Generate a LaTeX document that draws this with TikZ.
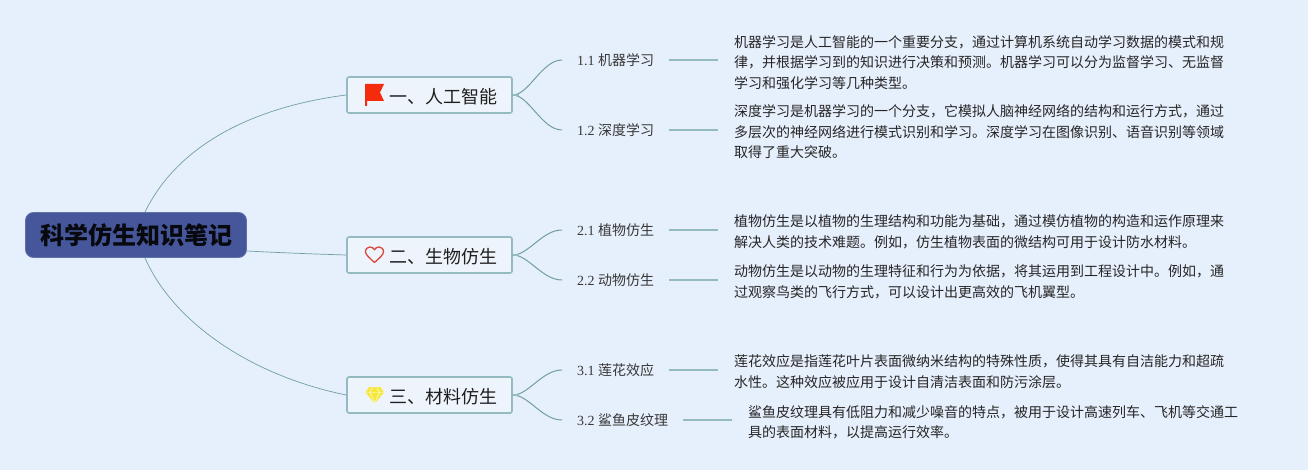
\documentclass[tikz,border=0pt]{standalone}
\usepackage{fontspec}
\setmainfont{Liberation Serif}
\newfontfamily\cjk{Noto Sans CJK SC}
\usetikzlibrary{calc}
\definecolor{bgc}{HTML}{E6EFFC}
\definecolor{edgec}{HTML}{94BCC0}
\definecolor{linec}{HTML}{6F9FA3}
\definecolor{rootc}{HTML}{45579A}
\definecolor{boxc}{HTML}{EEF4FB}
\definecolor{flagc}{HTML}{F52B0D}
\definecolor{heartc}{HTML}{D9483B}
\definecolor{gemc}{HTML}{F5E83F}
\tikzset{
  rootbox/.style={draw=rootc!85!white,line width=0.8pt,fill=rootc,rounded corners=8pt,minimum width=221pt,minimum height=45pt,inner sep=0pt,font=\cjk\bfseries\fontsize{24}{28}\selectfont,text=black!90!rootc},
  branchbox/.style={draw=edgec,line width=1.6pt,fill=boxc,rounded corners=2pt,minimum width=165pt,minimum height=36pt,inner sep=0pt},
  branchtext/.style={anchor=west,inner sep=0pt,font=\cjk\fontsize{18}{22}\selectfont,text=black!88},
  sublabel/.style={anchor=west,inner sep=0pt,outer sep=15pt,font=\fontsize{14}{18}\selectfont,text=black!78},
  bodytext/.style={anchor=west,inner sep=0pt,outer sep=16pt,align=left,font=\cjk\fontsize{14}{20.5}\selectfont,text=black!85},
  mainlink/.style={draw=linec,line width=0.7pt},
  sublink/.style={draw=linec,line width=1pt},
  leaflink/.style={draw=edgec,line width=1.5pt},
}
\newcommand{\sublab}[2]{\raisebox{-1pt}{#1 {\cjk #2}}}
\begin{document}
\begin{tikzpicture}[x=1pt,y=-1pt]
\useasboundingbox (0,0) rectangle (1308,470);
\fill[bgc] (0,0) rectangle (1308,470);
% root
\node[rootbox] (root) at (136,235) {科学仿生知识笔记};
% branches
\node[branchbox] (a) at (429.5,95) {};
\node[branchbox] (b) at (429.5,255) {};
\node[branchbox] (c) at (429.5,395) {};
\node[branchtext] (at) at (389,96.7) {一、人工智能};
\node[branchtext] (bt) at (389,256.7) {二、生物仿生};
\node[branchtext] (ct) at (389,396.7) {三、材料仿生};
% icons
\fill[flagc] (365.2,84) -- (384,84) -- (380,92.5) -- (384,101) -- (367,101) -- (367,106) -- (365.2,106) -- cycle;
\draw[draw=heartc,line width=1.3pt,line join=round] (374.5,262.5) .. controls (369,257.5) and (365.5,254.5) .. (365.5,251.8) .. controls (365.5,248.5) and (368,247) .. (370,247) .. controls (372,247) and (373.6,248) .. (374.5,249.8) .. controls (375.4,248) and (377,247) .. (379,247) .. controls (381,247) and (383.5,248.5) .. (383.5,251.8) .. controls (383.5,254.5) and (380,257.5) .. (374.5,262.5) -- cycle;
\fill[gemc] (369,387) -- (380.5,387) -- (384,392.5) -- (374.7,403.5) -- (365.5,392.5) -- cycle;
\draw[white,line width=0.4pt] (365.8,392.5) -- (383.8,392.5) (370,392.5) -- (374.7,403) -- (379.5,392.5) (370,392.5) -- (372.5,387.5) (379.5,392.5) -- (377,387.5);
% sub labels
\node[sublabel] (a1) at (562,60) {\sublab{1.1}{机器学习}};
\node[sublabel] (a2) at (562,130) {\sublab{1.2}{深度学习}};
\node[sublabel] (b1) at (562,230) {\sublab{2.1}{植物仿生}};
\node[sublabel] (b2) at (562,280) {\sublab{2.2}{动物仿生}};
\node[sublabel] (c1) at (562,370) {\sublab{3.1}{莲花效应}};
\node[sublabel] (c2) at (562,420) {\sublab{3.2}{鲨鱼皮纹理}};
% body text
\node[bodytext] (ta1) at (718,62.5) {机器学习是人工智能的一个重要分支，通过计算机系统自动学习数据的模式和规\\律，并根据学习到的知识进行决策和预测。机器学习可以分为监督学习、无监督\\学习和强化学习等几种类型。};
\node[bodytext] (ta2) at (718,132) {深度学习是机器学习的一个分支，它模拟人脑神经网络的结构和运行方式，通过\\多层次的神经网络进行模式识别和学习。深度学习在图像识别、语音识别等领域\\取得了重大突破。};
\node[bodytext] (tb1) at (718,232) {植物仿生是以植物的生理结构和功能为基础，通过模仿植物的构造和运作原理来\\解决人类的技术难题。例如，仿生植物表面的微结构可用于设计防水材料。};
\node[bodytext] (tb2) at (718,282) {动物仿生是以动物的生理特征和行为为依据，将其运用到工程设计中。例如，通\\过观察鸟类的飞行方式，可以设计出更高效的飞机翼型。};
\node[bodytext] (tc1) at (718,371.5) {莲花效应是指莲花叶片表面微纳米结构的特殊性质，使得其具有自洁能力和超疏\\水性。这种效应被应用于设计自清洁表面和防污涂层。};
\node[bodytext] (tc2) at (732,422.5) {鲨鱼皮纹理具有低阻力和减少噪音的特点，被用于设计高速列车、飞机等交通工\\具的表面材料，以提高运行效率。};
% root links
\draw[mainlink] ($(root.north)+(9,0)$) .. controls (175,150) and (245,108) .. (a.west);
\draw[mainlink] (root.east |- 0,251) .. controls (285,253) and (315,254) .. (b.west);
\draw[mainlink] ($(root.south)+(9,0)$) .. controls (172,320) and (248,375) .. (c.west);
% branch to sub links
\foreach \p/\q in {a/a1,a/a2,b/b1,b/b2,c/c1,c/c2}{
  \draw[sublink] (\p.east) .. controls +(16,0) and ($(\q.west)+(-20,0)$) .. (\q.west);
  \draw[leaflink] (\p.east) -- +(6,0);
}
% sub to text links
\foreach \p/\q in {a1/ta1,a2/ta2,b1/tb1,b2/tb2,c1/tc1,c2/tc2}{
  \draw[leaflink] (\p.east) -- (\p.east -| \q.west);
}
\end{tikzpicture}
\end{document}
